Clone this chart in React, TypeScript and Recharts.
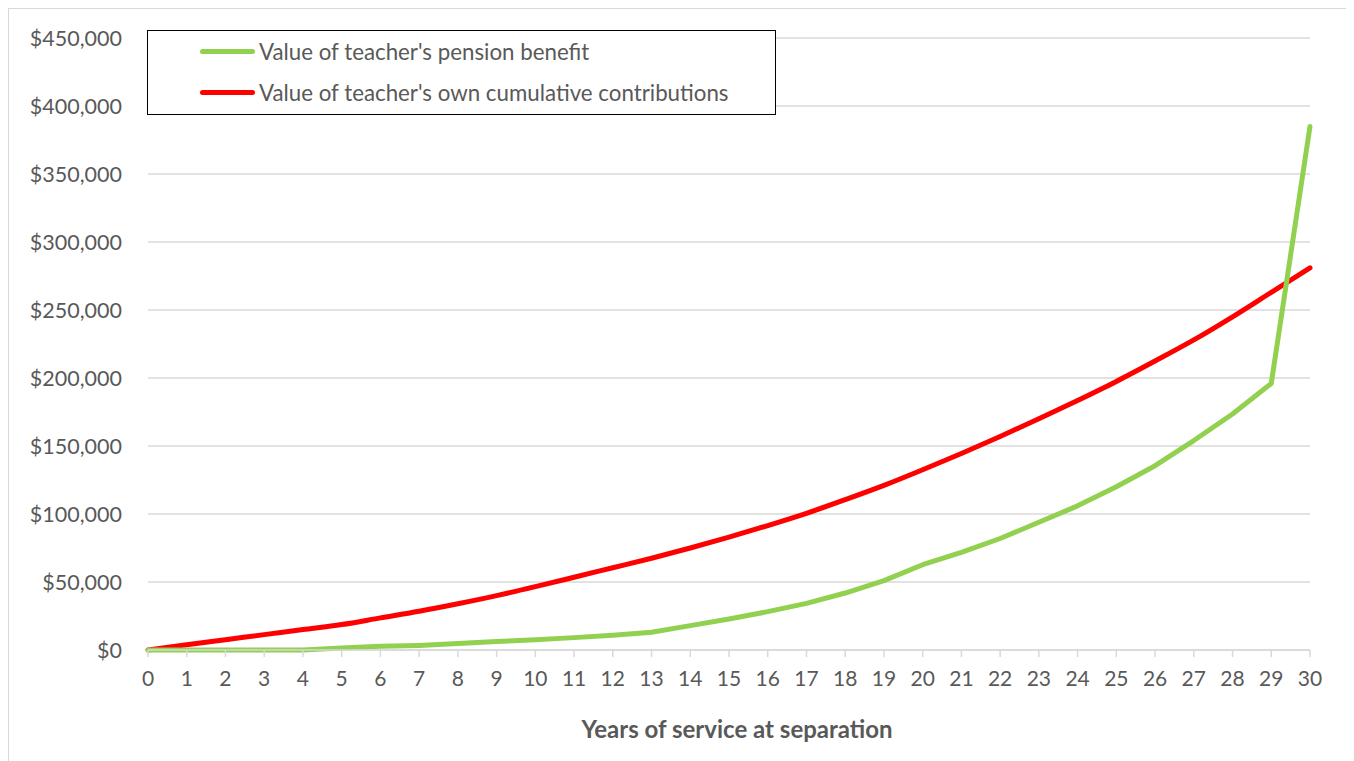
import React from 'react';
import { LineChart, Line, XAxis, YAxis, CartesianGrid, Legend, Label } from 'recharts';

const years = [0, 1, 2, 3, 4, 5, 6, 7, 8, 9, 10, 11, 12, 13, 14, 15, 16, 17, 18, 19, 20, 21, 22, 23, 24, 25, 26, 27, 28, 29, 30];

const pensionBenefit = [
  0, 0, 0, 0, 0, 1500, 2700, 3400, 4700, 6200, 7600, 9100, 10800, 13000, 17900, 22800,
  28200, 34300, 41900, 51000, 62700, 71800, 82000, 93900, 106000, 120000, 135500, 154000,
  173500, 196000, 385000,
];

const ownContributions = [
  0, 3900, 7600, 11300, 15000, 18700, 23600, 28500, 34000, 40000, 46600, 53500, 60500,
  67500, 75000, 83000, 91500, 100500, 110500, 121000, 132500, 144500, 157000, 170000,
  183500, 197500, 212500, 228000, 245000, 263000, 281000,
];

const yTicks = [0, 50000, 100000, 150000, 200000, 250000, 300000, 350000, 400000, 450000];

const seriesNames = {
  pension: "Value of teacher's pension benefit",
  contributions: "Value of teacher's own cumulative contributions",
};
const legendOrder = ['pension', 'contributions'];

const chartData = years.map((year, i) => ({
  year,
  pension: pensionBenefit[i],
  contributions: ownContributions[i],
}));

const FONT = 'Lato, "Open Sans", sans-serif';
const TEXT = '#595959';
const GRID = '#d9d9d9';

const formatDollar = (v: number) => '$' + v.toLocaleString('en-US');

function LegendBox(props: any) {
  const payload = [...(props.payload || [])].sort(
    (a: any, b: any) => legendOrder.indexOf(a.dataKey) - legendOrder.indexOf(b.dataKey)
  );
  return (
    <div
      style={{
        width: 629,
        height: 85,
        boxSizing: 'border-box',
        border: '1.5px solid #000',
        background: '#fff',
        position: 'relative',
        fontFamily: FONT,
      }}
    >
      {payload.map((entry: any, i: number) => (
        <div
          key={entry.value}
          style={{
            position: 'absolute',
            left: 52,
            top: 20 + i * 41 - 12,
            height: 24,
            display: 'flex',
            alignItems: 'center',
          }}
        >
          <span
            style={{
              display: 'inline-block',
              width: 55,
              height: 5,
              borderRadius: 3,
              background: entry.color,
              marginRight: 4,
            }}
          />
          <span style={{ color: TEXT, fontSize: 22.3, whiteSpace: 'nowrap' }}>{entry.value}</span>
        </div>
      ))}
    </div>
  );
}

export default function App() {
  return (
    <div
      style={{
        width: 1338,
        height: 760,
        borderLeft: `1px solid ${GRID}`,
        borderTop: `1px solid ${GRID}`,
        borderRight: `1px solid ${GRID}`,
        background: '#fff',
      }}
    >
      <LineChart
        width={1338}
        height={752}
        data={chartData}
        margin={{ top: 29, right: 37, left: 0, bottom: 0 }}
        style={{ fontFamily: FONT }}
      >
        <CartesianGrid vertical={false} stroke={GRID} strokeWidth={1.5} />
        <XAxis
          dataKey="year"
          type="number"
          domain={[0, 30]}
          ticks={years}
          interval={0}
          height={111}
          stroke={GRID}
          strokeWidth={1.5}
          tickSize={7}
          tickMargin={14}
          tick={{ fill: TEXT, fontSize: 21 }}
        >
          <Label
            value="Years of service at separation"
            position="insideBottom"
            offset={23}
            dx={8}
            style={{ fill: TEXT, fontSize: 24, fontWeight: 700 }}
          />
        </XAxis>
        <YAxis
          domain={[0, 450000]}
          ticks={yTicks}
          interval={0}
          width={139}
          axisLine={false}
          tickLine={false}
          tickSize={0}
          tickMargin={26}
          tickFormatter={formatDollar}
          tick={{ fill: TEXT, fontSize: 21.5 }}
        />
        <Legend
          layout="vertical"
          align="center"
          verticalAlign="middle"
          wrapperStyle={{ top: 21, left: 138, width: 629, height: 85 }}
          content={<LegendBox />}
        />
        <Line
          type="monotone"
          dataKey="contributions"
          name={seriesNames.contributions}
          stroke="#ff0000"
          strokeWidth={5}
          dot={false}
          strokeLinecap="round"
          strokeLinejoin="round"
          isAnimationActive={false}
        />
        <Line
          type="linear"
          dataKey="pension"
          name={seriesNames.pension}
          stroke="#92d050"
          strokeWidth={5}
          dot={false}
          strokeLinecap="round"
          strokeLinejoin="round"
          isAnimationActive={false}
        />
      </LineChart>
    </div>
  );
}
